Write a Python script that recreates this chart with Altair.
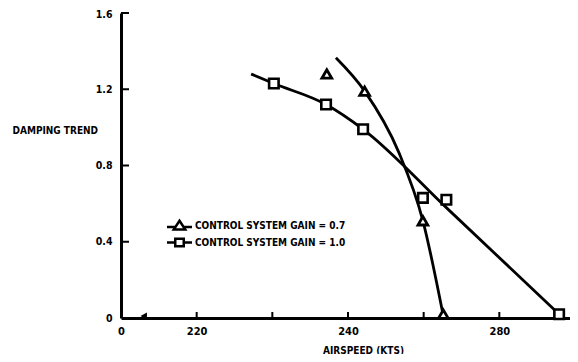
import altair as alt
import pandas as pd

FONT = "DejaVu Sans Condensed, Liberation Sans Narrow, DejaVu Sans, sans-serif"

S07 = "CONTROL SYSTEM GAIN = 0.7"
S10 = "CONTROL SYSTEM GAIN = 1.0"

# measured markers
tri_x = [237.2, 242.2, 249.9, 252.6]
tri_y = [1.28, 1.19, 0.51, 0.02]
sq_x = [230.2, 237.1, 242.0, 249.9, 253.0, 267.9]
sq_y = [1.23, 1.12, 0.99, 0.63, 0.62, 0.02]

# faired curves
tri_curve_x = [238.4, 242.2, 246.7, 249.9, 252.6]
tri_curve_y = [1.365, 1.19, 0.87, 0.51, 0.01]
sq_curve_x = [227.2, 230.2, 237.1, 242.0, 253.1, 267.9]
sq_curve_y = [1.28, 1.23, 1.12, 0.99, 0.575, 0.02]

# stray mark near origin
stray_x = [213.0]
stray_y = [0.01]

x_axis_values = [210, 220, 230, 240, 250, 260]
x_tick_marks = [220, 230, 240, 250, 260]
y_axis_values = [0, 0.4, 0.8, 1.2, 1.6]
y_tick_marks = [0.4, 0.8, 1.2, 1.6]

tri = pd.DataFrame({"airspeed": tri_x, "damping": tri_y})
sq = pd.DataFrame({"airspeed": sq_x, "damping": sq_y})
curves = pd.DataFrame({
    "airspeed": tri_curve_x + sq_curve_x,
    "damping": tri_curve_y + sq_curve_y,
    "series": [S07] * len(tri_curve_x) + [S10] * len(sq_curve_x),
})
stray = pd.DataFrame({"airspeed": stray_x, "damping": stray_y})
xt = pd.DataFrame({"airspeed": x_tick_marks})
yt = pd.DataFrame({"damping": y_tick_marks})

W, H = 449, 305

xscale = alt.Scale(domain=[210, 269.34], nice=False, zero=False)
yscale = alt.Scale(domain=[0, 1.6], nice=False)

xaxis = alt.Axis(
    values=x_axis_values,
    labelExpr="datum.value == 210 ? '0' : datum.value == 220 ? '220' : datum.value == 240 ? '240' : datum.value == 260 ? '280' : ''",
    ticks=False, tickSize=0, grid=False,
    domainColor="black", domainWidth=3,
    labelFont=FONT, labelFontSize=11, labelFontWeight="bold", labelColor="black",
    labelPadding=7, labelFlush=False, labelOverlap=False,
    title="AIRSPEED (KTS)", titleFont=FONT, titleFontSize=10, titleFontWeight="bold",
    titleColor="black", titleX=242, titleY=32, titleAlign="center", titleBaseline="middle",
)
yaxis = alt.Axis(
    values=y_axis_values,
    labelExpr="datum.value == 0 ? '0' : format(datum.value, '.1f')",
    ticks=False, tickSize=0, grid=False,
    domainColor="black", domainWidth=3,
    labelFont=FONT, labelFontSize=10.5, labelFontWeight="bold", labelColor="black",
    labelPadding=9, labelFlush=False, labelOverlap=False,
    labelOffset={"condition": {"test": "datum.value == 1.6", "value": 1.5}, "value": 0},
    title="DAMPING TREND", titleFont=FONT, titleFontSize=10, titleFontWeight="bold",
    titleColor="black", titleAngle=0, titleX=-109, titleY=117,
    titleAlign="left", titleBaseline="middle",
)

X = alt.X("airspeed:Q", scale=xscale, axis=xaxis)
Y = alt.Y("damping:Q", scale=yscale, axis=yaxis)

TRI_PATH = "M-2.5,0.3L-0.82,0.3M0.82,0.3L2.5,0.3M0,-0.95L1.15,0.8L-1.15,0.8Z"
SQ_PATH = "M-2.5,0L-0.85,0M0.85,0L2.5,0M-0.85,-0.75L0.85,-0.75L0.85,0.75L-0.85,0.75Z"

legend = alt.Legend(
    orient="none", legendX=52, legendY=206, title=None, padding=0,
    labelFont=FONT, labelFontSize=10, labelFontWeight="bold", labelColor="black",
    labelOffset=9, symbolSize=100, rowPadding=-2,
    symbolStrokeWidth=2.5, symbolStrokeColor="black",
    symbolOpacity=1,
)

lines = alt.Chart(curves).mark_line(interpolate="monotone", color="black", strokeWidth=2.8).encode(
    x=X, y=Y, detail="series:N"
)
# legend-only layer (no data drawn)
legend_layer = alt.Chart(curves).transform_filter("false").mark_point(
    filled=False, color="black", stroke="black", strokeWidth=2.5, opacity=1
).encode(
    x=X, y=Y,
    shape=alt.Shape("series:N", scale=alt.Scale(domain=[S07, S10], range=[TRI_PATH, SQ_PATH]), legend=legend),
)
tri_marks = alt.Chart(tri).mark_point(shape="triangle-up", filled=True, fill="white", stroke="black",
                                      strokeWidth=2.8, size=95, opacity=1).encode(x=X, y=Y)
sq_marks = alt.Chart(sq).mark_point(shape="square", filled=True, fill="white", stroke="black",
                                    strokeWidth=2.6, size=90, opacity=1).encode(x=X, y=Y)
stray_mark = alt.Chart(stray).mark_point(shape="triangle-left", filled=True, color="black", size=55, opacity=1).encode(
    x=X, y=Y
)
xticks = alt.Chart(xt).mark_rule(color="black", strokeWidth=2).encode(
    x=X, y=alt.value(H), y2=alt.value(H - 6)
)
yticks = alt.Chart(yt).mark_rule(color="black", strokeWidth=2).encode(
    y=Y, x=alt.value(0), x2=alt.value(8)
)

chart = alt.layer(lines, legend_layer, tri_marks, sq_marks, stray_mark, xticks, yticks).properties(
    width=W, height=H,
    autosize=alt.AutoSizeParams(type="none"),
    padding={"left": 113, "top": 5, "right": 0, "bottom": 36},
    background="white",
).configure_view(stroke=None)

chart.save("out.html", embed_options={"renderer": "svg", "actions": False})
